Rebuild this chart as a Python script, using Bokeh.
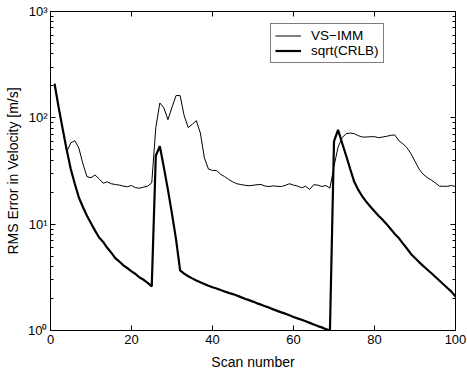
from bokeh.plotting import figure
from bokeh.models import (FixedTicker, CustomJSTickFormatter, LinearAxis, LogAxis,
                          Legend, LegendItem, ColumnDataSource)
from bokeh.embed import file_html
from bokeh.resources import INLINE

scan = list(range(1, 101))

vs_imm = [209, 126, 79, 48, 58, 61, 52, 37, 28, 27.3,
          29, 26.7, 24.3, 25, 24, 23.6, 23.3, 22.8, 22.5, 23.1,
          22, 21.8, 22.3, 22.8, 24.5, 81, 138, 124, 96, 126,
          162, 162, 105, 81, 87, 94, 72, 42, 33, 32,
          32, 29.5, 28, 26.3, 25, 24, 23.6, 23.2, 23, 23.2,
          23.5, 23.6, 22.8, 22.6, 22.9, 22.7, 22.6, 23.2, 24, 23.3,
          22.8, 22, 22.7, 21.2, 23.5, 23.3, 22.6, 23.1, 21.8, 35,
          53, 65, 71, 72, 71, 68, 66, 66, 66.5, 66.5,
          65, 66, 67, 68.5, 69, 61, 57, 52.5, 46, 39,
          33, 29.5, 27.5, 26, 24.5, 22.8, 22.7, 22.7, 23.1, 22.6]

crlb = [209, 126, 79, 50, 33, 24, 17.8, 14.5, 12, 10.2,
        8.7, 7.5, 6.8, 6.0, 5.4, 4.8, 4.45, 4.1, 3.85, 3.6,
        3.4, 3.15, 3.0, 2.8, 2.6, 44, 54, 34, 21, 12.5,
        7.2, 3.67, 3.43, 3.24, 3.09, 2.95, 2.84, 2.74, 2.64, 2.55,
        2.48, 2.40, 2.33, 2.26, 2.20, 2.13, 2.06, 1.99, 1.93, 1.87,
        1.80, 1.75, 1.69, 1.64, 1.58, 1.53, 1.48, 1.44, 1.39, 1.34,
        1.30, 1.26, 1.22, 1.18, 1.14, 1.10, 1.07, 1.03, 1.0, 60,
        77, 58, 44, 33, 25, 21, 18.2, 16.2, 14.6, 13.2,
        12.0, 11.0, 10.0, 9.0, 8.1, 7.4, 6.6, 5.9, 5.25, 4.8,
        4.4, 4.05, 3.75, 3.47, 3.2, 2.95, 2.72, 2.51, 2.32, 2.08]

x_ticks = [0, 20, 40, 60, 80, 100]
y_ticks = [1, 10, 100, 1000]
y_minor = [m * d for d in (1, 10, 100) for m in range(2, 10)]

FONT = "Liberation Sans"

src = ColumnDataSource(dict(scan=scan, vs=vs_imm, crlb=crlb))

p = figure(width=467, height=377, x_range=(0, 100), y_range=(1, 1000),
           y_axis_type="log", output_backend="svg", toolbar_location=None,
           min_border_left=50, min_border_right=12, min_border_top=11,
           min_border_bottom=47)
p.background_fill_color = "white"
p.border_fill_color = "white"
p.outline_line_color = "black"
p.outline_line_width = 1
p.xgrid.visible = False
p.ygrid.visible = False

r1 = p.line("scan", "vs", source=src, line_color="black", line_width=1)
r2 = p.line("scan", "crlb", source=src, line_color="black", line_width=2.2)

ysup = CustomJSTickFormatter(code="""
const s = {0:'\u2070',1:'\u00b9',2:'\u00b2',3:'\u00b3'};
return '10' + s[Math.round(Math.log10(tick))];
""")
blank = CustomJSTickFormatter(code="return '';")

def style(ax):
    ax.axis_line_color = "black"
    ax.major_tick_line_color = "black"
    ax.minor_tick_line_color = "black"
    ax.major_tick_in = 5
    ax.major_tick_out = 0
    ax.minor_tick_in = 3
    ax.minor_tick_out = 0
    ax.major_label_text_font = FONT
    ax.major_label_text_font_size = "13px"
    ax.major_label_text_color = "black"
    ax.axis_label_text_font = FONT
    ax.axis_label_text_font_size = "14px"
    ax.axis_label_text_font_style = "normal"
    ax.axis_label_text_color = "black"

xa = p.xaxis[0]
style(xa)
xa.ticker = FixedTicker(ticks=x_ticks)
xa.minor_tick_line_color = None
xa.axis_label = "Scan number"
xa.major_label_standoff = 4
xa.axis_label_standoff = 7

ya = p.yaxis[0]
style(ya)
ya.ticker = FixedTicker(ticks=y_ticks, minor_ticks=y_minor)
ya.formatter = ysup
ya.axis_label = "RMS Error in Velocity [m/s]"
ya.major_label_standoff = 3
ya.axis_label_standoff = 4

top = LinearAxis(ticker=FixedTicker(ticks=x_ticks), formatter=blank)
style(top)
top.minor_tick_line_color = None
top.major_label_standoff = 0
p.add_layout(top, "above")

right = LogAxis(ticker=FixedTicker(ticks=y_ticks, minor_ticks=y_minor), formatter=blank)
style(right)
right.major_label_standoff = 0
p.add_layout(right, "right")

legend = Legend(items=[LegendItem(label="VS\u2212IMM", renderers=[r1]),
                       LegendItem(label="sqrt(CRLB)", renderers=[r2])],
                location=(220, 267))
legend.border_line_color = "black"
legend.border_line_width = 1
legend.background_fill_color = "white"
legend.background_fill_alpha = 1
legend.label_text_font = FONT
legend.label_text_font_size = "13.5px"
legend.label_text_color = "black"
legend.padding = 4
legend.margin = 0
legend.spacing = 0
legend.glyph_width = 26
legend.glyph_height = 15
legend.label_height = 15
legend.label_standoff = 10
legend.label_width = 68
p.add_layout(legend, "center")

open("out.html", "w").write(file_html(p, INLINE))
